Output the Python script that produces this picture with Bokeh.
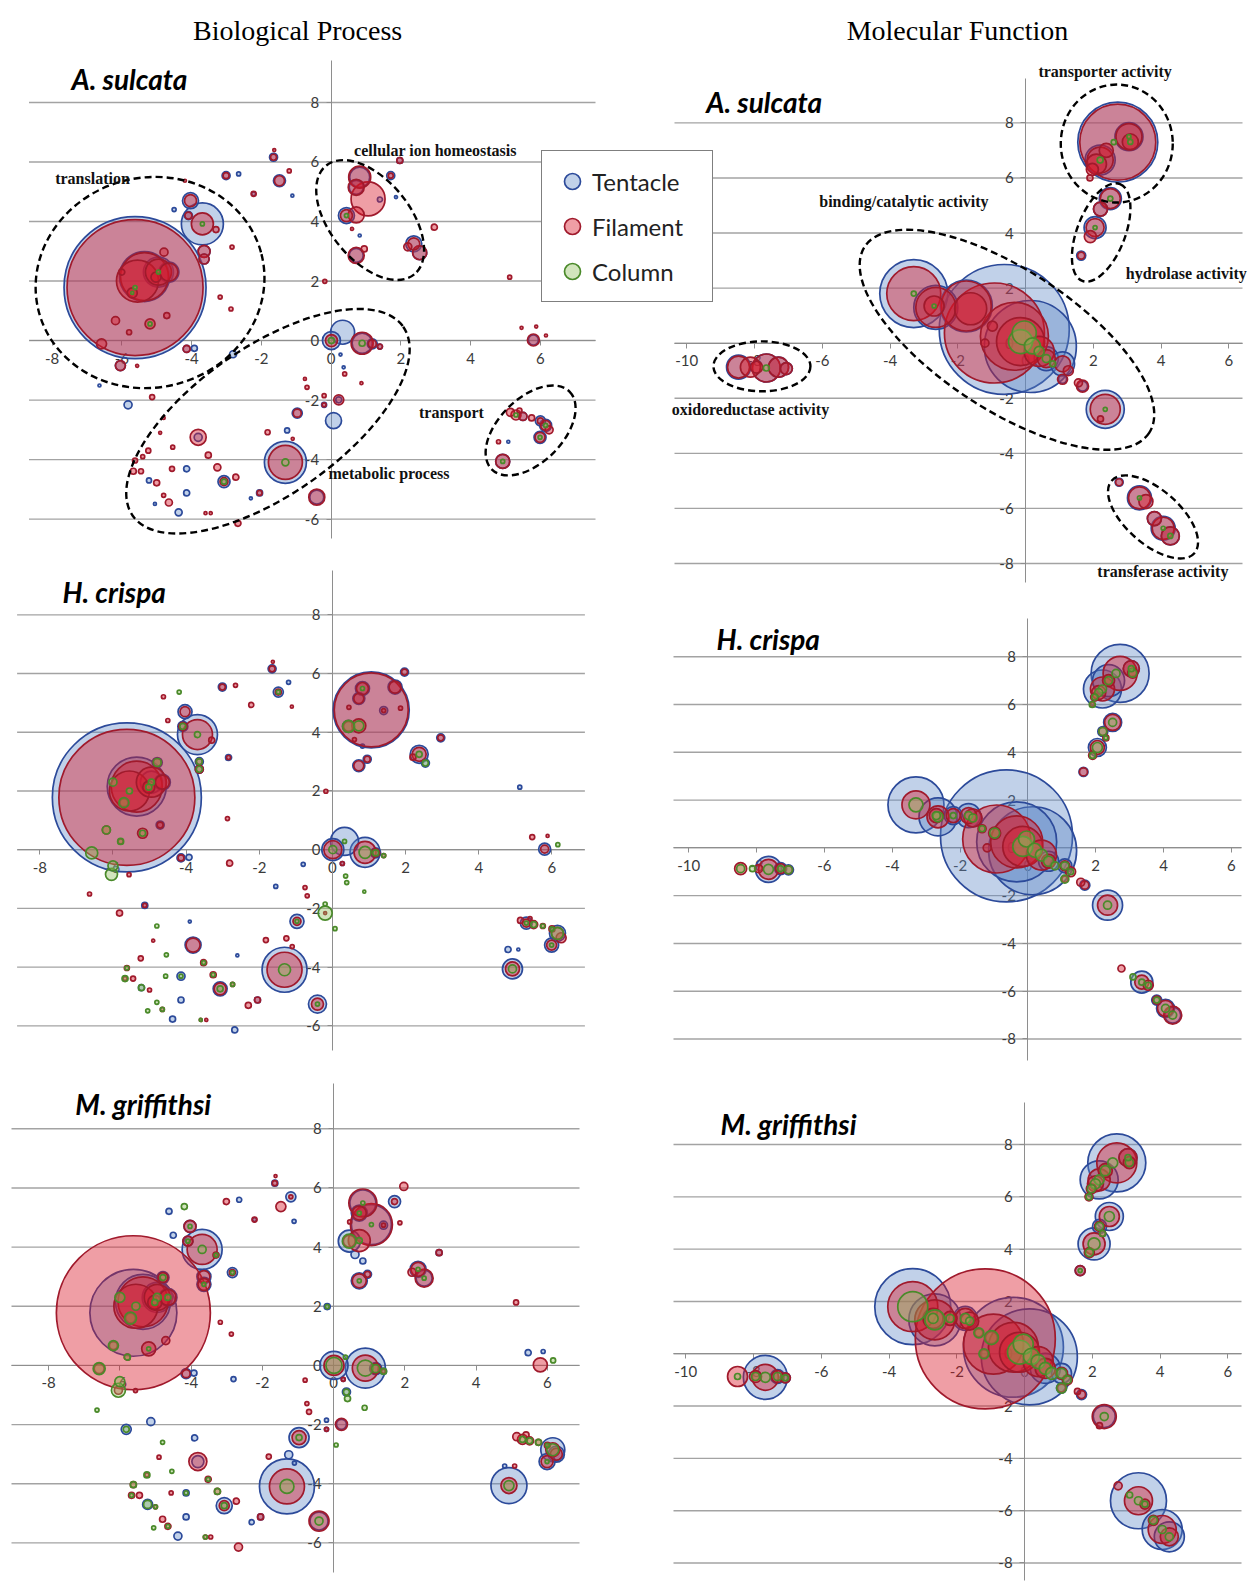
import numpy as np
from bokeh.plotting import figure
from bokeh.models import (Range1d, LinearAxis, FixedTicker, ColumnDataSource,
                          Legend, LegendItem, PrintfTickFormatter)
from bokeh.core.properties import value
from bokeh.embed import file_html
from bokeh.resources import INLINE

# ---------------------------------------------------------------------------
# Biological Process: GO-term positions (semantic space) and bubble diameters
# per species and tissue (0 = term not enriched in that tissue)
# ---------------------------------------------------------------------------
bp_x = [
    # translation
    -5.62, -5.35, -5.55, -4.95, -4.65, -5.7, -6.0, -6.18, -6.58, -6.04,
    -5.19, -5.79, -5.02, -4.79, -4.71, -4.14, -3.92, -3.69, -4.03, -4.09,
    -3.64, -3.64, -3.3, -2.84, -4.5, -3.18, -2.87, -2.81, -4.19, -3.01,
    -2.65, -2.22, -1.65, -1.48, -1.63, -1.11, -1.2, -6.64, -5.82, -5.13,
    -5.56, -6.0, -4.62,
    # cellular ion homeostasis
    0.82, 1.06, 0.72, 0.44, 0.72, 0.72, 0.95, 1.71, 1.97, 0.82,
    0.6, 1.86, 2.37, 2.54, 2.2, 2.96, 1.4, -0.18, 0.45, 5.12,
    # near origin
    0.01, 0.33, 0.89, 1.18, 1.4, 0.36, 0.39, 0.27, 0.87, 0.07,
    0.22, -0.2, -0.2, -0.97, -0.69, -0.75, -0.8, -1.55,
    # metabolic process
    -1.31, -0.41, -3.81, -3.07, -3.26, -2.73, -2.05, -2.67, -4.37, -4.65,
    -4.14, -4.14, -3.52, -4.56, -4.54, -5.24, -5.62, -5.67, -5.45, -5.22,
    -5.0, -4.8, -5.05, -3.6, -3.45, -2.3, -1.82, -1.26, -1.1, -4.8,
    -5.4, -4.9, -3.9, -2.6,
    # transport
    5.14, 5.3, 5.5, 5.75, 6.0, 6.15, 6.25, 5.99, 4.92, 4.8,
    5.08, 5.4, 5.8, 5.46, 5.88, 6.16,
]
bp_y = [
    1.78, 2.15, 2.0, 2.3, 2.3, 1.6, 2.3, 0.67, -0.11, -0.84,
    0.56, 0.28, 2.13, 2.97, 0.84, -0.28, -0.26, 3.92, 4.7, 4.2,
    3.0, 2.74, 3.73, 3.14, 4.4, 1.46, 1.06, -0.46, 5.37, 5.54,
    5.6, 4.93, 6.16, 5.37, 6.4, 4.87, 5.7, -1.51, -2.16, -1.9,
    -0.85, -0.55, 5.21,
    5.49, 4.76, 5.15, 4.2, 4.22, 2.86, 3.08, 5.54, 6.05, 3.53,
    3.75, 4.82, 3.25, 2.95, 3.15, 3.81, 4.74, 1.99, 4.85, 2.13,
    0.0, 0.28, -0.09, -0.11, -0.2, -0.9, -1.12, -0.47, -1.43, -2.69,
    -1.99, -2.16, -1.85, -2.44, -1.57, -1.29, -0.5, -1.25,
    -4.09, -5.26, -3.25, -4.74, -4.26, -4.59, -5.12, -6.14, -5.77, -5.44,
    -5.12, -4.31, -3.85, -4.31, -3.58, -3.7, -4.03, -4.39, -4.39, -4.7,
    -4.78, -5.2, -5.49, -5.8, -5.8, -5.3, -3.08, -3.02, -3.3, -2.6,
    -3.9, -3.1, -2.45, -3.6,
    -2.41, -2.5, -2.55, -2.6, -2.7, -2.85, -3.0, -3.25, -4.06, -3.4,
    -3.4, -2.35, 0.02, 0.43, 0.47, 0.17,
]

bp_as_tentacle = [
    142, 50, 0, 30, 20, 0, 0, 0, 0, 10, 0, 0, 0, 0, 0, 7, 6, 42, 16, 8,
    12, 10, 0, 0, 4, 0, 0, 7, 0, 8, 4, 4, 8, 12, 0, 3, 0, 3, 8, 0, 0, 0, 0,
    20, 0, 14, 16, 0, 14, 0, 8, 6, 3, 0, 3, 16, 14, 0, 0, 5, 0, 0, 0,
    18, 24, 20, 10, 5, 3, 0, 3, 0, 16, 6, 5, 0, 10, 0, 0, 0, 0,
    42, 14, 8, 12, 0, 0, 6, 0, 7, 0, 6, 6, 0, 0, 0, 0, 0, 0, 0, 5,
    0, 0, 3, 0, 0, 3, 0, 5, 0, 0, 0, 0, 0, 0,
    0, 0, 8, 0, 10, 12, 0, 12, 14, 0, 3, 0, 10, 0, 0, 0,
]
bp_as_filament = [
    136, 48, 42, 26, 18, 10, 6, 8, 10, 10, 10, 5, 10, 8, 6, 7, 0, 22, 12, 7,
    12, 10, 6, 4, 0, 4, 4, 0, 3, 6, 0, 5, 6, 10, 3, 0, 4, 0, 0, 5, 3, 0, 0,
    22, 34, 16, 12, 16, 16, 6, 5, 6, 0, 3, 0, 12, 14, 8, 6, 0, 4, 0, 4,
    12, 0, 22, 8, 5, 0, 4, 0, 3, 0, 10, 4, 4, 8, 4, 3, 0, 0,
    34, 16, 16, 8, 7, 6, 5, 6, 0, 7, 0, 0, 6, 5, 4, 5, 5, 6, 5, 0,
    6, 4, 0, 3, 3, 0, 5, 0, 3, 3, 4, 3, 0, 0,
    8, 10, 8, 6, 6, 10, 8, 10, 14, 4, 0, 5, 12, 3, 3, 3,
]
bp_as_column = [
    4, 0, 0, 4, 0, 3, 0, 0, 0, 0, 4, 0, 0, 0, 0, 0, 0, 4, 0, 0,
    0, 0, 0, 0, 0, 0, 0, 0, 0, 0, 0, 0, 0, 0, 0, 0, 0, 0, 0, 0, 0, 0, 0,
    0, 0, 0, 4, 0, 0, 0, 0, 0, 0, 0, 0, 0, 0, 0, 0, 0, 0, 0, 0,
    6, 0, 6, 0, 0, 0, 0, 0, 0, 0, 0, 0, 0, 0, 0, 0, 0, 0,
    7, 0, 0, 5, 0, 0, 0, 0, 0, 0, 0, 0, 0, 0, 0, 0, 0, 0, 0, 0,
    0, 0, 0, 0, 0, 0, 0, 0, 0, 0, 0, 0, 0, 0,
    0, 4, 0, 0, 0, 4, 0, 4, 4, 0, 0, 0, 0, 0, 0, 0,
]
bp_hc_tentacle = [
    149, 59, 0, 22, 16, 0, 0, 0, 0, 0, 0, 0, 0, 10, 8, 8, 6, 40, 14, 10,
    8, 8, 0, 6, 0, 0, 0, 0, 0, 8, 0, 0, 8, 10, 0, 0, 4, 0, 0, 6, 0, 0, 0,
    14, 76, 12, 12, 0, 12, 8, 14, 8, 4, 0, 0, 18, 8, 0, 8, 8, 0, 0, 4,
    22, 28, 30, 10, 0, 0, 0, 4, 0, 0, 0, 0, 0, 14, 0, 0, 4, 4,
    45, 18, 16, 14, 0, 0, 6, 6, 6, 0, 6, 8, 0, 0, 0, 0, 0, 0, 0, 6,
    0, 0, 0, 0, 0, 0, 0, 0, 0, 0, 0, 0, 3, 3,
    0, 12, 0, 0, 0, 16, 0, 14, 20, 6, 3, 0, 12, 0, 0, 0,
]
bp_hc_filament = [
    136, 51, 40, 30, 14, 8, 0, 8, 0, 0, 10, 5, 12, 8, 6, 6, 0, 30, 10, 8,
    6, 8, 6, 4, 4, 0, 4, 6, 0, 6, 4, 5, 6, 6, 3, 3, 0, 4, 6, 4, 4, 0, 4,
    12, 74, 10, 10, 14, 10, 6, 12, 6, 0, 4, 4, 14, 0, 6, 6, 4, 4, 4, 0,
    18, 0, 22, 8, 4, 0, 0, 4, 0, 0, 0, 3, 0, 8, 4, 4, 0, 0,
    35, 12, 14, 12, 6, 4, 6, 0, 0, 4, 0, 0, 6, 0, 0, 5, 5, 4, 5, 0,
    4, 0, 0, 3, 3, 6, 5, 5, 4, 0, 0, 3, 0, 0,
    6, 8, 8, 5, 6, 12, 10, 10, 14, 0, 0, 4, 8, 5, 3, 0,
]
bp_hc_column = [
    0, 0, 6, 6, 0, 10, 8, 8, 12, 12, 6, 6, 6, 8, 0, 0, 0, 6, 0, 6,
    6, 6, 0, 0, 0, 0, 0, 0, 4, 0, 0, 0, 0, 4, 0, 0, 0, 0, 0, 0, 0, 10, 0,
    4, 0, 0, 12, 10, 0, 0, 0, 0, 0, 0, 0, 6, 6, 0, 0, 0, 0, 0, 0,
    8, 4, 12, 6, 4, 4, 4, 0, 3, 4, 0, 14, 4, 4, 0, 0, 0, 0,
    12, 4, 0, 6, 4, 4, 0, 0, 0, 4, 0, 4, 4, 4, 4, 0, 4, 6, 0, 6,
    0, 4, 4, 3, 0, 0, 0, 0, 0, 4, 0, 0, 0, 0,
    0, 4, 6, 4, 4, 12, 0, 4, 8, 0, 0, 0, 0, 0, 0, 4,
]
bp_mg_tentacle = [
    87, 55, 0, 30, 18, 0, 0, 0, 0, 0, 0, 0, 0, 12, 0, 10, 6, 40, 12, 10,
    14, 14, 0, 10, 6, 0, 0, 5, 0, 0, 5, 4, 6, 0, 0, 4, 10, 0, 10, 8, 0, 0, 6,
    26, 40, 16, 22, 0, 16, 8, 12, 0, 6, 8, 0, 16, 16, 0, 6, 8, 6, 0, 0,
    28, 0, 40, 12, 6, 8, 0, 4, 0, 0, 10, 4, 4, 20, 0, 0, 0, 0,
    55, 18, 12, 16, 0, 0, 6, 0, 8, 0, 6, 6, 0, 0, 0, 0, 0, 0, 0, 10,
    0, 0, 0, 0, 0, 5, 0, 8, 4, 0, 0, 0, 6, 0,
    0, 0, 0, 0, 0, 24, 16, 16, 36, 4, 0, 0, 0, 6, 4, 0,
]
bp_mg_filament = [
    154, 50, 44, 26, 16, 10, 0, 8, 10, 8, 14, 6, 14, 10, 8, 8, 0, 30, 12, 10,
    12, 12, 6, 6, 0, 4, 4, 0, 0, 6, 0, 5, 5, 10, 3, 0, 4, 0, 0, 0, 4, 0, 0,
    28, 42, 14, 12, 22, 14, 6, 6, 8, 0, 0, 4, 14, 18, 8, 6, 4, 0, 4, 5,
    20, 0, 26, 10, 4, 0, 0, 4, 0, 0, 12, 4, 0, 14, 5, 4, 4, 0,
    35, 20, 18, 10, 6, 6, 6, 8, 0, 6, 0, 0, 6, 4, 0, 4, 6, 6, 6, 0,
    4, 6, 0, 4, 4, 0, 5, 0, 0, 0, 0, 4, 0, 0,
    8, 10, 8, 6, 6, 14, 12, 12, 16, 0, 4, 6, 14, 0, 0, 0,
]
bp_mg_column = [
    0, 0, 8, 8, 6, 12, 10, 10, 12, 14, 4, 6, 6, 6, 0, 0, 0, 8, 4, 4,
    0, 4, 4, 4, 0, 0, 0, 0, 6, 0, 0, 0, 0, 0, 0, 0, 0, 4, 6, 0, 0, 10, 0,
    4, 4, 4, 14, 6, 4, 0, 0, 0, 0, 0, 0, 4, 4, 0, 0, 0, 4, 0, 0,
    16, 4, 16, 8, 6, 6, 6, 0, 5, 4, 0, 0, 0, 6, 0, 0, 0, 0,
    14, 8, 0, 6, 6, 0, 0, 0, 0, 4, 0, 4, 4, 0, 4, 6, 6, 4, 0, 8,
    4, 0, 4, 4, 0, 0, 0, 0, 0, 4, 0, 0, 0, 0,
    0, 6, 6, 6, 4, 12, 0, 4, 10, 0, 0, 0, 0, 0, 0, 5,
]

# ---------------------------------------------------------------------------
# Molecular Function: GO-term positions and bubble diameters
# ---------------------------------------------------------------------------
mf_x = [
    # transporter activity
    2.72, 3.05, 3.09, 2.2, 2.09, 2.38, 1.97, 2.6, 1.9,
    # hydrolase activity
    2.5, 2.21, 2.05, 1.91, 1.64, 2.3,
    # binding / catalytic activity
    -3.3, -2.65, -2.7, -1.75, -1.62, -0.63, -1.16, -0.92, 0.14, -0.33,
    -0.15, -0.04, 0.2, 0.61, 1.09, 1.26, 1.09, 1.68, 1.56, 2.35,
    2.21, -0.98, -1.2, -2.2, -1.35, 0.4, 0.8,
    # oxidoreductase activity
    -8.47, -8.12, -7.65, -7.29, -7.06, -7.94,
    # transferase activity
    2.76, 3.36, 3.55, 3.8, 4.06, 4.27, 3.1,
]
mf_y = [
    7.3, 7.5, 7.31, 6.65, 6.5, 7.0, 6.31, 7.3, 6.0,
    5.25, 4.87, 4.2, 3.87, 3.18, 4.6,
    1.8, 1.3, 1.35, 1.35, 1.25, 0.5, 0.57, 0.37, -0.12, 0.25,
    0.06, 0.37, -0.1, -0.56, -0.75, -1.0, -1.31, -1.56, -1.44, -2.4,
    -2.75, 0.62, 0.0, 1.35, 0.8, -0.3, -0.75,
    -0.87, -0.87, -0.9, -0.87, -0.92, -0.87,
    -5.05, -5.62, -5.75, -6.37, -6.72, -7.0, -5.4,
]

mf_as_tentacle = [
    80, 28, 0, 30, 0, 0, 0, 0, 0,
    22, 14, 22, 0, 9, 0,
    68, 44, 0, 52, 0, 130, 0, 0, 92, 0, 0, 0, 0, 24, 24, 0, 8, 10, 0, 38,
    0, 0, 0, 0, 0, 0, 0,
    24, 0, 28, 20, 12, 0,
    8, 24, 0, 14, 24, 18, 0,
]
mf_as_filament = [
    76, 26, 16, 26, 20, 14, 12, 0, 6,
    20, 14, 18, 12, 7, 0,
    54, 40, 20, 50, 32, 0, 0, 100, 0, 68, 48, 0, 0, 18, 16, 10, 10, 12, 8, 30,
    6, 10, 8, 0, 0, 30, 0,
    22, 20, 28, 20, 12, 12,
    7, 22, 14, 14, 22, 18, 0,
]
mf_as_column = [
    0, 4, 5, 6, 0, 0, 0, 5, 0,
    5, 0, 4, 0, 0, 0,
    5, 0, 4, 0, 0, 0, 0, 0, 0, 0, 24, 24, 16, 8, 0, 0, 0, 0, 0, 4,
    0, 0, 0, 0, 0, 10, 6,
    0, 0, 6, 0, 0, 0,
    0, 4, 0, 0, 4, 5, 0,
]
mf_hc_tentacle = [
    58, 16, 0, 38, 0, 32, 0, 0, 0,
    18, 10, 18, 0, 9, 0,
    56, 38, 0, 24, 18, 132, 0, 0, 88, 80, 0, 0, 0, 20, 14, 0, 0, 10, 0, 30,
    0, 0, 0, 18, 0, 0, 0,
    0, 0, 26, 12, 10, 0,
    0, 22, 0, 10, 18, 16, 0,
]
mf_hc_filament = [
    34, 16, 10, 24, 14, 12, 8, 0, 4,
    16, 8, 14, 8, 8, 6,
    28, 22, 14, 16, 18, 0, 0, 68, 0, 52, 40, 0, 0, 14, 10, 10, 6, 8, 8, 20,
    0, 12, 8, 14, 8, 30, 0,
    12, 0, 20, 10, 8, 8,
    7, 14, 10, 8, 16, 18, 0,
]
mf_hc_column = [
    0, 6, 8, 8, 8, 8, 6, 8, 6,
    8, 8, 10, 6, 0, 4,
    14, 10, 8, 8, 8, 0, 0, 0, 0, 0, 20, 16, 14, 10, 8, 6, 8, 0, 0, 8,
    0, 10, 0, 6, 6, 12, 8,
    8, 6, 10, 6, 8, 0,
    0, 6, 6, 6, 8, 8, 6,
]
mf_mg_tentacle = [
    58, 18, 0, 38, 0, 0, 0, 0, 0,
    28, 14, 32, 0, 10, 0,
    76, 52, 0, 24, 0, 0, 0, 0, 96, 100, 0, 0, 0, 30, 20, 0, 10, 10, 0, 22,
    0, 0, 0, 0, 0, 0, 0,
    0, 0, 44, 14, 10, 0,
    0, 56, 0, 0, 40, 30, 0,
]
mf_mg_filament = [
    40, 18, 12, 22, 16, 14, 10, 0, 8,
    20, 10, 22, 10, 10, 6,
    50, 40, 20, 20, 18, 0, 140, 60, 0, 50, 40, 0, 0, 20, 12, 10, 8, 8, 6, 24,
    6, 12, 8, 14, 8, 30, 0,
    20, 0, 26, 12, 10, 12,
    8, 28, 10, 10, 28, 18, 0,
]
mf_mg_column = [
    0, 6, 8, 10, 10, 10, 8, 10, 6,
    10, 8, 12, 8, 4, 6,
    30, 20, 10, 10, 8, 0, 0, 0, 0, 0, 24, 20, 16, 12, 10, 8, 10, 0, 0, 8,
    0, 14, 10, 8, 10, 14, 12,
    6, 0, 10, 8, 6, 8,
    0, 8, 6, 8, 8, 8, 6,
]

# Axis ticks
bp_xticks = [-8, -6, -4, -2, 0, 2, 4, 6]
bp_yticks = [-6, -4, -2, 0, 2, 4, 6, 8]
mf_xticks = [-10, -8, -6, -4, -2, 0, 2, 4, 6]
mf_yticks = [-8, -6, -4, -2, 0, 2, 4, 6, 8]

# Cluster annotations (A. sulcata panels)
bp_group_labels = ["translation", "cellular ion homeostasis",
                   "metabolic process", "transport"]
bp_group_label_x = [-6.84, 2.99, 1.66, 3.45]
bp_group_label_y = [5.45, 6.38, -4.48, -2.42]
bp_ellipse_x = [-5.19, 1.12, -1.81, 5.72]
bp_ellipse_y = [1.95, 4.05, -2.71, -3.02]
bp_ellipse_w = [230, 140, 330, 110]
bp_ellipse_h = [210, 80, 148, 64]
bp_ellipse_angle = [0.25, -0.89, 0.61, 0.785]

mf_group_labels = ["transporter activity", "binding/catalytic activity",
                   "hydrolase activity", "oxidoreductase activity",
                   "transferase activity"]
mf_group_label_x = [2.35, -3.59, 4.74, -8.12, 4.05]
mf_group_label_y = [9.85, 5.13, 2.53, -2.41, -8.29]
mf_ellipse_x = [2.69, 2.23, -0.55, -7.78, 3.76]
mf_ellipse_y = [7.25, 4.02, 0.125, -0.84, -6.31]
mf_ellipse_w = [112, 104, 340, 97, 110]
mf_ellipse_h = [118, 48, 140, 50, 54]
mf_ellipse_angle = [0.0, 1.2, -0.58, 0.0, -0.72]

for arr in (bp_y, bp_as_tentacle, bp_as_filament, bp_as_column,
            bp_hc_tentacle, bp_hc_filament, bp_hc_column,
            bp_mg_tentacle, bp_mg_filament, bp_mg_column):
    assert len(arr) == len(bp_x), len(arr)
for arr in (mf_y, mf_as_tentacle, mf_as_filament, mf_as_column,
            mf_hc_tentacle, mf_hc_filament, mf_hc_column,
            mf_mg_tentacle, mf_mg_filament, mf_mg_column):
    assert len(arr) == len(mf_x), len(arr)

# ---------------------------------------------------------------------------
# Styling
# ---------------------------------------------------------------------------
W, H = 1257, 1587
TISSUES = ["Tentacle", "Filament", "Column"]
FILL = {"Tentacle": "#5b86c5", "Filament": "#d81828", "Column": "#8fbf5a"}
LINE = {"Tentacle": "#2c4a9a", "Filament": "#a01a2c", "Column": "#4a8a2a"}
ALPHA = {"Tentacle": 0.38, "Filament": 0.42, "Column": 0.40}
GRID = "#a3a3a3"
AXIS = "#8e8e8e"
TICK_FONT = "Lato"

p = figure(width=W, height=H, x_range=Range1d(0, 1), y_range=Range1d(0, 1),
           min_border=0, toolbar_location=None, output_backend="svg",
           x_axis_location=None, y_axis_location=None)
p.outline_line_color = None
p.background_fill_color = "white"
p.border_fill_color = "white"
p.grid.visible = False


def add_panel(name, box, xlim, ylim, xticks, yticks, xs, ys, sizes,
              species, species_xy):
    """One bubble panel: its own data ranges mapped onto a box of the canvas."""
    left, right, top, bottom = box
    x0, x1 = xlim
    y0, y1 = ylim
    sx = (x1 - x0) / (right - left)
    sy = (y1 - y0) / (bottom - top)
    p.extra_x_ranges[name] = Range1d(x0 - left * sx, x1 + (W - right) * sx)
    p.extra_y_ranges[name] = Range1d(y0 - (H - bottom) * sy, y1 + top * sy)
    kw = dict(x_range_name=name, y_range_name=name)

    # horizontal grid lines (lowest layer)
    p.segment(x0=[x0] * len(yticks), x1=[x1] * len(yticks), y0=yticks, y1=yticks,
              line_color=GRID, line_width=1.4, level="image", **kw)

    # axes crossing at the origin
    xa = LinearAxis(ticker=FixedTicker(ticks=xticks), fixed_location=0,
                    bounds=(x0, x1), **kw)
    ya = LinearAxis(ticker=FixedTicker(ticks=yticks), fixed_location=0,
                    bounds=(y0, y1), **kw)
    for ax in (xa, ya):
        ax.formatter = PrintfTickFormatter(format="%d")
        ax.axis_line_color = AXIS
        ax.axis_line_width = 1
        ax.major_tick_line_color = AXIS
        ax.major_tick_in = 0
        ax.major_tick_out = 5
        ax.minor_tick_line_color = None
        ax.major_label_text_font = TICK_FONT
        ax.major_label_text_font_size = "15px"
        ax.major_label_text_color = "#3a3a3a"
        ax.major_label_standoff = 7
        ax.level = "underlay"
    p.add_layout(xa, "below")
    p.add_layout(ya, "left")

    xs = np.asarray(xs, float)
    ys = np.asarray(ys, float)
    rends = {}
    for tissue, sz in zip(TISSUES, sizes):
        s = np.asarray(sz, float)
        m = s > 0
        order = np.argsort(-s[m], kind="stable")
        src = ColumnDataSource(dict(x=xs[m][order], y=ys[m][order],
                                    size=s[m][order]))
        rends[tissue] = p.scatter("x", "y", size="size", source=src,
                                  marker="circle",
                                  fill_color=FILL[tissue],
                                  fill_alpha=ALPHA[tissue],
                                  line_color=LINE[tissue], line_width=1.7,
                                  **kw)

    p.text(x=[species_xy[0]], y=[species_xy[1]], text=[species],
           text_font=value("Lato"), text_font_style="bold italic",
           text_font_size="28px", text_color="black",
           text_align="left", text_baseline="middle", **kw)
    return kw, rends


panels = [
    dict(name="bp_as", box=(28.5, 595, 60, 538), xlim=(-8.66, 7.58),
         ylim=(-6.65, 9.41), xticks=bp_xticks, yticks=bp_yticks, xs=bp_x, ys=bp_y,
         sizes=(bp_as_tentacle, bp_as_filament, bp_as_column),
         species="A. sulcata", species_xy=(-7.44, 8.8)),
    dict(name="bp_hc", box=(16.6, 584.4, 570, 1050), xlim=(-8.62, 6.9),
         ylim=(-6.84, 9.51), xticks=bp_xticks, yticks=bp_yticks, xs=bp_x, ys=bp_y,
         sizes=(bp_hc_tentacle, bp_hc_filament, bp_hc_column),
         species="H. crispa", species_xy=(-7.38, 8.77)),
    dict(name="bp_mg", box=(11, 579, 1083, 1572), xlim=(-9.04, 6.9),
         ylim=(-7.0, 9.53), xticks=bp_xticks, yticks=bp_yticks, xs=bp_x, ys=bp_y,
         sizes=(bp_mg_tentacle, bp_mg_filament, bp_mg_column),
         species="M. griffithsi", species_xy=(-7.25, 8.84)),
    dict(name="mf_as", box=(674, 1242, 77.5, 582), xlim=(-10.36, 6.4),
         ylim=(-8.69, 9.63), xticks=mf_xticks, yticks=mf_yticks, xs=mf_x, ys=mf_y,
         sizes=(mf_as_tentacle, mf_as_filament, mf_as_column),
         species="A. sulcata", species_xy=(-9.42, 8.77)),
    dict(name="mf_hc", box=(673, 1241, 618, 1060), xlim=(-10.45, 6.3),
         ylim=(-8.9, 9.6), xticks=mf_xticks, yticks=mf_yticks, xs=mf_x, ys=mf_y,
         sizes=(mf_hc_tentacle, mf_hc_filament, mf_hc_column),
         species="H. crispa", species_xy=(-9.18, 8.74)),
    dict(name="mf_mg", box=(673, 1241, 1101.7, 1580), xlim=(-10.36, 6.4),
         ylim=(-8.67, 9.62), xticks=mf_xticks, yticks=mf_yticks, xs=mf_x, ys=mf_y,
         sizes=(mf_mg_tentacle, mf_mg_filament, mf_mg_column),
         species="M. griffithsi", species_xy=(-8.97, 8.8)),
]

made = {}
for spec in panels:
    made[spec["name"]] = add_panel(**spec)

# dashed cluster outlines and their labels
for name, ex, ey, ew, eh, ea, lx, ly, lt in [
    ("bp_as", bp_ellipse_x, bp_ellipse_y, bp_ellipse_w, bp_ellipse_h,
     bp_ellipse_angle, bp_group_label_x, bp_group_label_y, bp_group_labels),
    ("mf_as", mf_ellipse_x, mf_ellipse_y, mf_ellipse_w, mf_ellipse_h,
     mf_ellipse_angle, mf_group_label_x, mf_group_label_y, mf_group_labels),
]:
    kw = made[name][0]
    p.ellipse(x=ex, y=ey, width=ew, height=eh, angle=ea,
              width_units="screen", height_units="screen",
              fill_color=None, line_color="black", line_width=2.4,
              line_dash="7 4", **kw)
    p.text(x=lx, y=ly, text=lt, text_font=value("Liberation Serif"),
           text_font_style="bold", text_font_size="16px", text_color="#111111",
           text_align="center", text_baseline="middle", **kw)

# column headers
p.text(x=[-0.96], y=[10.42], text=["Biological Process"],
       text_font=value("Liberation Serif"), text_font_size="28px",
       text_color="black", text_align="center", text_baseline="middle",
       **made["bp_as"][0])
p.text(x=[-2.01], y=[11.35], text=["Molecular Function"],
       text_font=value("Liberation Serif"), text_font_size="28px",
       text_color="black", text_align="center", text_baseline="middle",
       **made["mf_as"][0])

# legend
rends = made["bp_as"][1]
legend = Legend(items=[LegendItem(label=t, renderers=[rends[t]]) for t in TISSUES],
                location=(541, H - 302), orientation="vertical",
                glyph_width=40, glyph_height=40, label_width=110,
                label_standoff=0, padding=10, spacing=5, margin=0,
                border_line_color="black", border_line_width=1.5,
                background_fill_color="white", background_fill_alpha=1.0,
                label_text_font="Lato", label_text_font_size="24px",
                label_text_color="#222222")
p.add_layout(legend, "center")

open("out.html", "w").write(file_html(p, INLINE))
